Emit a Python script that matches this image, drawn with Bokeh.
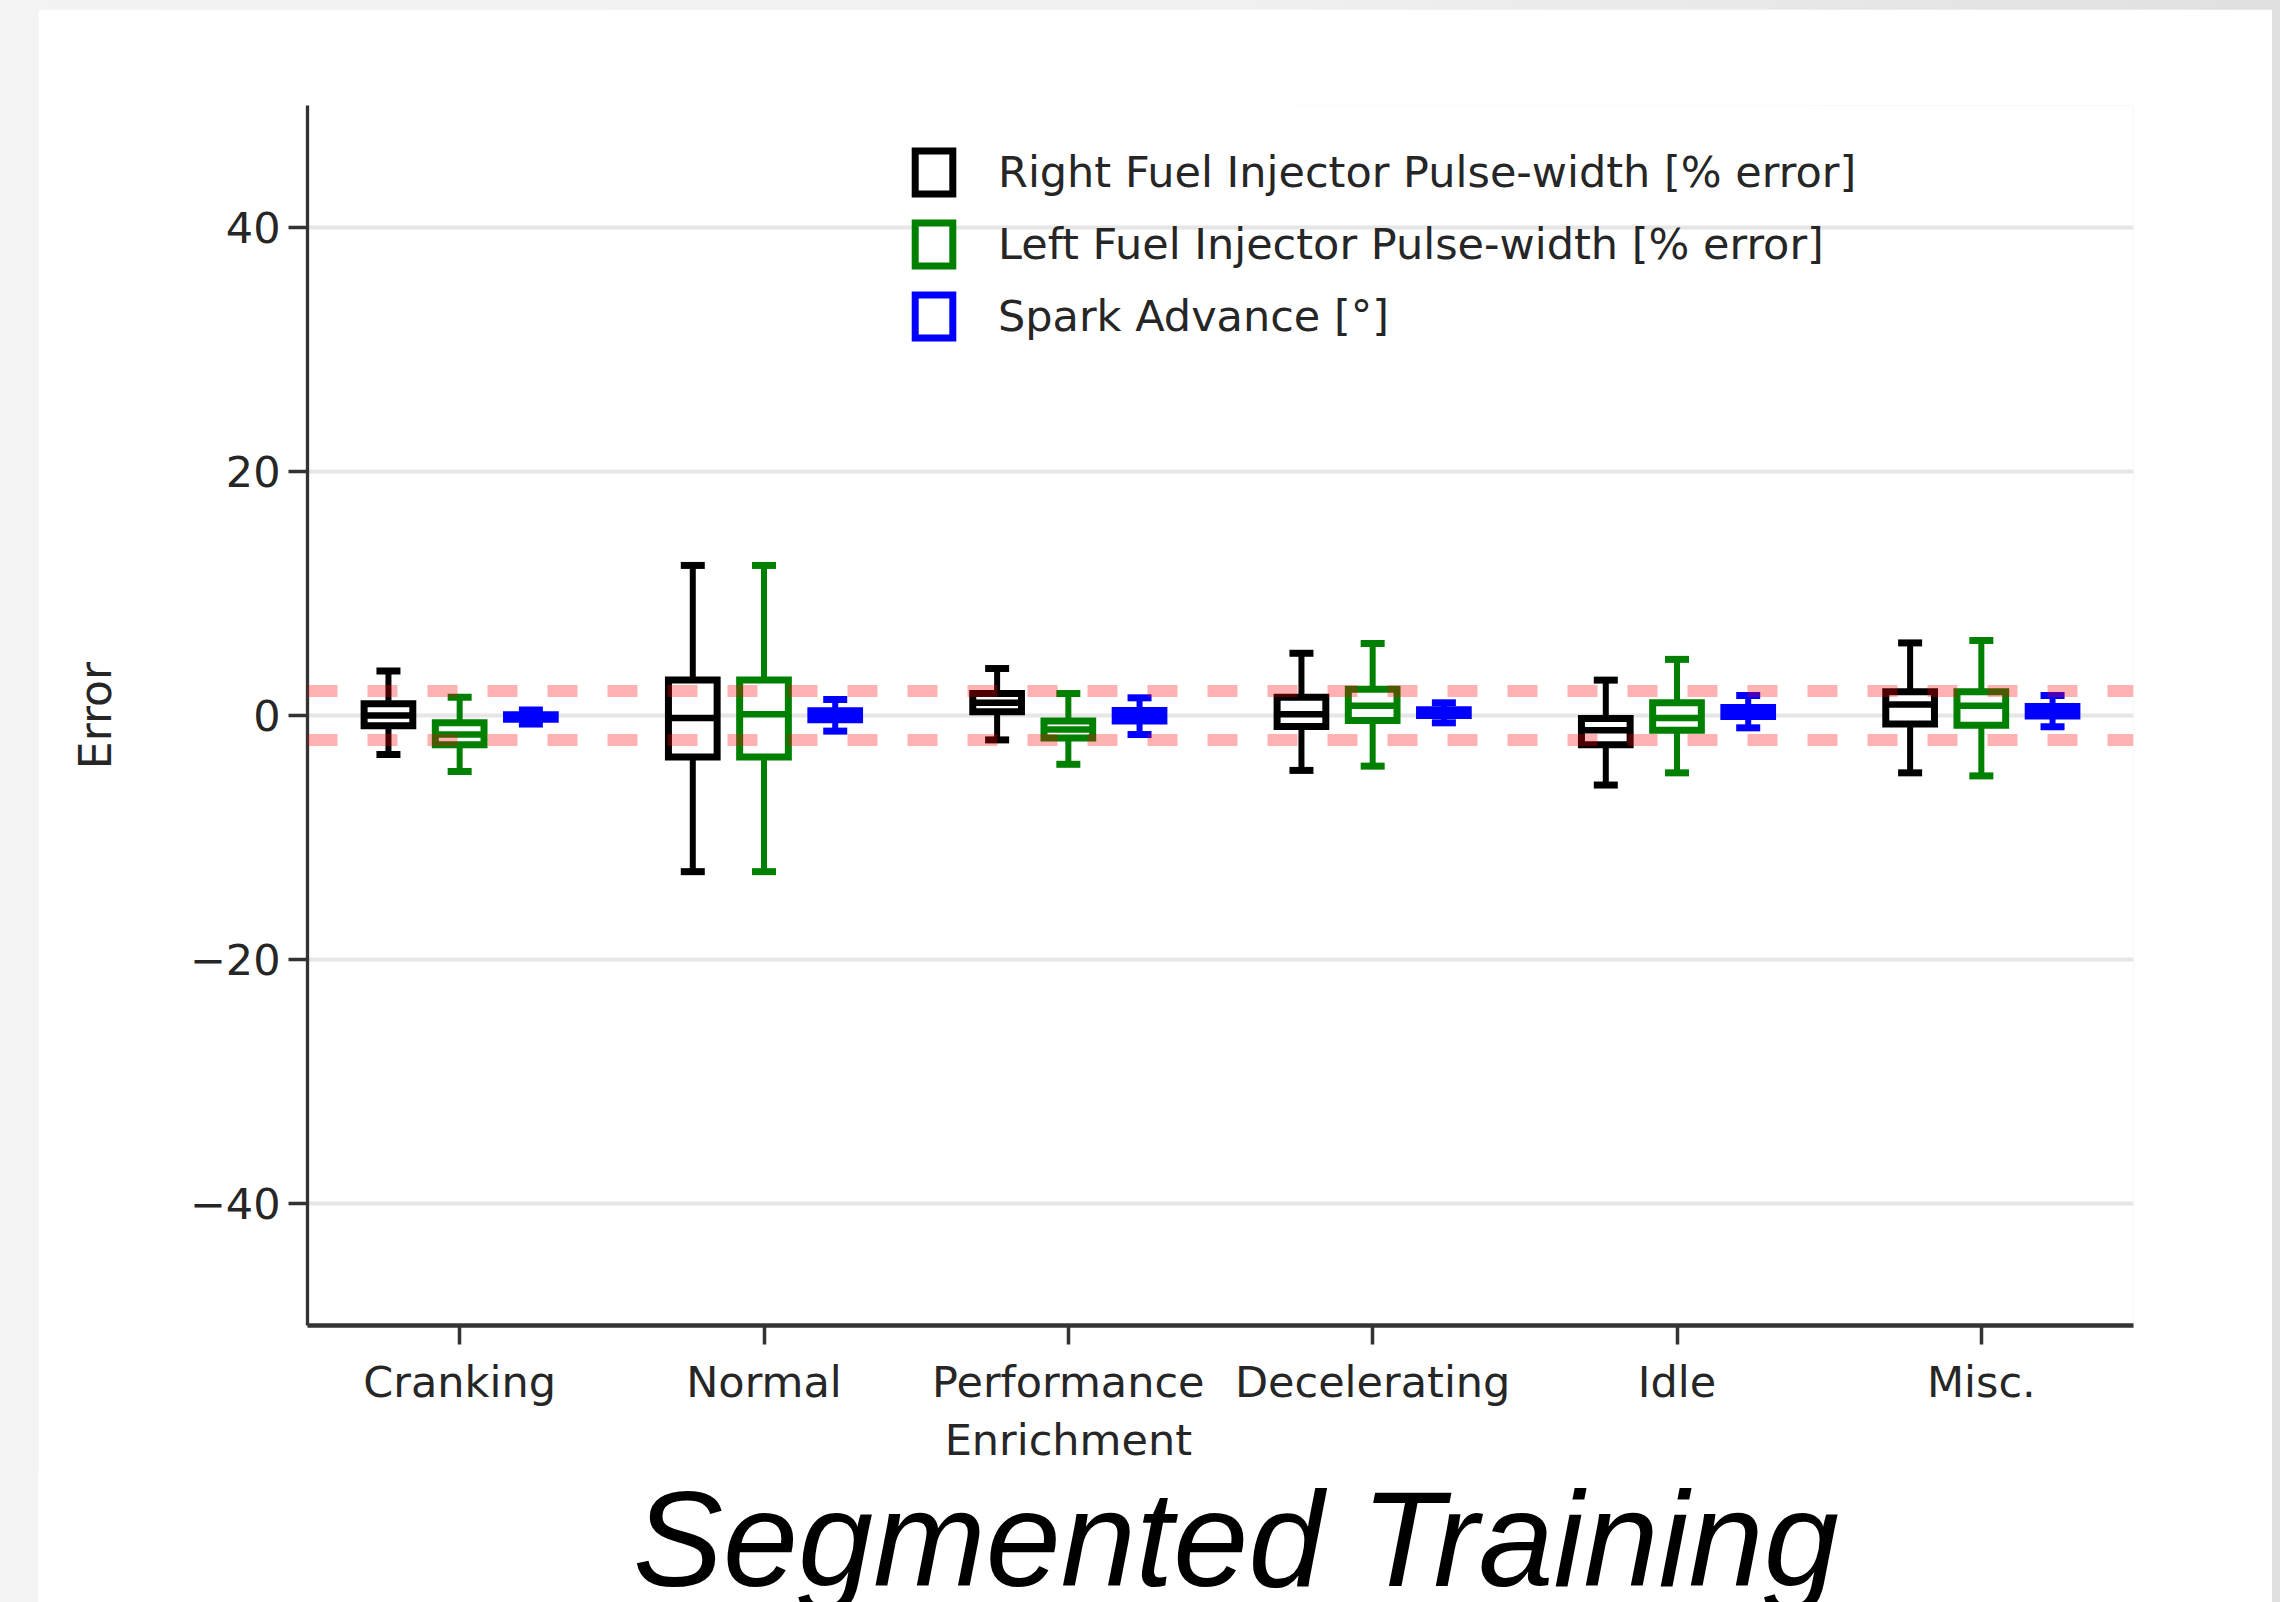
from bokeh.plotting import figure
from bokeh.models import (ColumnDataSource, FactorRange, Range1d, FixedTicker, Span,
                          Legend, LegendItem, Div)
from bokeh.layouts import column
from bokeh.transform import dodge
from bokeh.embed import file_html
from bokeh.resources import INLINE

categories = ["Cranking", "Normal", "Performance\nEnrichment", "Decelerating", "Idle", "Misc."]

series_labels = ["Right Fuel Injector Pulse-width [% error]",
                 "Left Fuel Injector Pulse-width [% error]",
                 "Spark Advance [°]"]
series_colors = ["black", "#008000", "#0000ff"]

# Right fuel injector (black)
right_lo  = [-3.2, -12.8, -2.0, -4.5, -5.7, -4.7]
right_q1  = [-0.85, -3.4, 0.3, -0.9, -2.4, -0.7]
right_med = [0.0, -0.2, 1.05, 0.1, -1.2, 0.9]
right_q3  = [0.97, 2.9, 1.8, 1.5, -0.25, 1.95]
right_hi  = [3.65, 12.3, 3.85, 5.1, 2.9, 5.95]

# Left fuel injector (green)
left_lo  = [-4.6, -12.8, -4.0, -4.15, -4.7, -4.95]
left_q1  = [-2.4, -3.4, -1.85, -0.4, -1.2, -0.8]
left_med = [-1.55, 0.1, -1.15, 0.8, -0.2, 0.8]
left_q3  = [-0.6, 2.9, -0.45, 2.15, 1.05, 1.95]
left_hi  = [1.5, 12.3, 1.8, 5.9, 4.6, 6.15]

# Spark advance (blue)
spark_lo  = [-0.7, -1.28, -1.56, -0.6, -1.01, -0.93]
spark_q1  = [-0.31, -0.34, -0.45, -0.01, -0.09, -0.04]
spark_med = [-0.12, 0.0, -0.03, 0.23, 0.29, 0.35]
spark_q3  = [0.06, 0.38, 0.4, 0.47, 0.66, 0.74]
spark_hi  = [0.45, 1.31, 1.45, 1.04, 1.64, 1.64]

y_ticks = [-40, -20, 0, 20, 40]
tolerance = [2, -2]
title_text = "Segmented Training"

series = [
    (right_lo, right_q1, right_med, right_q3, right_hi),
    (left_lo, left_q1, left_med, left_q3, left_hi),
    (spark_lo, spark_q1, spark_med, spark_q3, spark_hi),
]
offsets = [-0.234, 0.0, 0.234]
box_w = 0.16

FONT = "DejaVu Sans"
TXT = "#262626"
AX = "#333333"

# page geometry (white slide area inside a light grey frame)
ML, MT, MR = 38, 9, 8
W = 2280 - ML - MR
MAIN_BOTTOM = 1472
H_MAIN = MAIN_BOTTOM - MT

p = figure(width=W, height=H_MAIN, x_range=FactorRange(*categories),
           y_range=Range1d(-50, 50), output_backend="svg", toolbar_location=None,
           min_border_left=307 - ML, min_border_right=(ML + W) - 2133,
           min_border_top=105 - MT, min_border_bottom=MAIN_BOTTOM - 1325)
p.margin = (MT, MR, 0, ML)
p.outline_line_color = None
p.background_fill_color = "white"
p.border_fill_color = "white"

p.xgrid.visible = False
p.ygrid.ticker = FixedTicker(ticks=y_ticks)
p.ygrid.grid_line_color = "#e6e6e6"
p.ygrid.grid_line_width = 4

p.yaxis.ticker = FixedTicker(ticks=y_ticks)
p.yaxis.major_label_overrides = {t: (("\u2212" + str(-t)) if t < 0 else str(t)) for t in y_ticks}
p.yaxis.axis_label = "Error"
p.yaxis.axis_label_standoff = 66
p.yaxis.axis_label_text_font = FONT
p.yaxis.axis_label_text_font_size = "44px"
p.yaxis.axis_label_text_font_style = "normal"
p.yaxis.axis_label_text_color = TXT

for ax in (p.xaxis, p.yaxis):
    ax.minor_tick_line_color = None
    ax.major_tick_in = 0
    ax.major_tick_out = 19
    ax.major_tick_line_color = AX
    ax.axis_line_color = AX
    ax.major_label_text_font = FONT
    ax.major_label_text_font_size = "43px"
    ax.major_label_text_color = TXT
p.yaxis.major_tick_line_width = 3.5
p.yaxis.axis_line_width = 3.3
p.yaxis.major_label_standoff = 8
p.xaxis.major_tick_line_width = 3.5
p.xaxis.axis_line_width = 4.5
p.xaxis.major_label_standoff = 12
p.xaxis.major_label_text_line_height = 1.17

box_renderers = []
for (lo, q1, med, q3, hi), off, col in zip(series, offsets, series_colors):
    src = ColumnDataSource(dict(cat=categories, lo=lo, q1=q1, med=med, q3=q3, hi=hi))
    # whisker stems
    p.segment(x0=dodge("cat", off, range=p.x_range), x1=dodge("cat", off, range=p.x_range),
              y0="q3", y1="hi", source=src, line_color=col, line_width=6)
    p.segment(x0=dodge("cat", off, range=p.x_range), x1=dodge("cat", off, range=p.x_range),
              y0="q1", y1="lo", source=src, line_color=col, line_width=6)
    # caps
    for fld in ("hi", "lo"):
        p.rect(x=dodge("cat", off, range=p.x_range), y=fld, width=24, height=7,
               width_units="screen", height_units="screen", source=src,
               fill_color=col, line_color=None)
    # box
    r = p.vbar(x=dodge("cat", off, range=p.x_range), top="q3", bottom="q1", width=box_w,
               source=src, fill_color="white", line_color=col, line_width=7,
               line_join="miter")
    box_renderers.append(r)
    # median
    p.segment(x0=dodge("cat", off - box_w / 2, range=p.x_range),
              x1=dodge("cat", off + box_w / 2, range=p.x_range),
              y0="med", y1="med", source=src, line_color=col, line_width=6.5)

for loc in tolerance:
    p.add_layout(Span(location=loc, dimension="width", line_color="red", line_alpha=0.3,
                      line_width=12, line_dash="30 30"))

legend = Legend(items=[LegendItem(label=lab, renderers=[r])
                       for lab, r in zip(series_labels, box_renderers)],
                location=(603, 982), padding=0, margin=0, spacing=18,
                glyph_width=47, glyph_height=54, label_standoff=41,
                label_text_font=FONT, label_text_font_size="43px",
                label_text_color=TXT, border_line_color=None,
                background_fill_alpha=0)
p.add_layout(legend)

caption = Div(text=title_text, width=W, height=1602 - MAIN_BOTTOM,
              margin=(0, MR, 0, ML),
              styles={"font-family": "'Liberation Sans', Arial, sans-serif",
                      "font-style": "italic", "font-size": "135px",
                      "line-height": "135px", "color": "black",
                      "white-space": "nowrap", "overflow": "hidden",
                      "padding-left": "%dpx" % (633 - ML), "box-sizing": "border-box",
                      "background": "white"})

page = column(p, caption, spacing=0,
              styles={"background": "linear-gradient(to right, #f3f3f3 0px, #f1f1f1 1200px, #e0e0e0 2280px)"})

open("out.html", "w").write(file_html(page, INLINE))
